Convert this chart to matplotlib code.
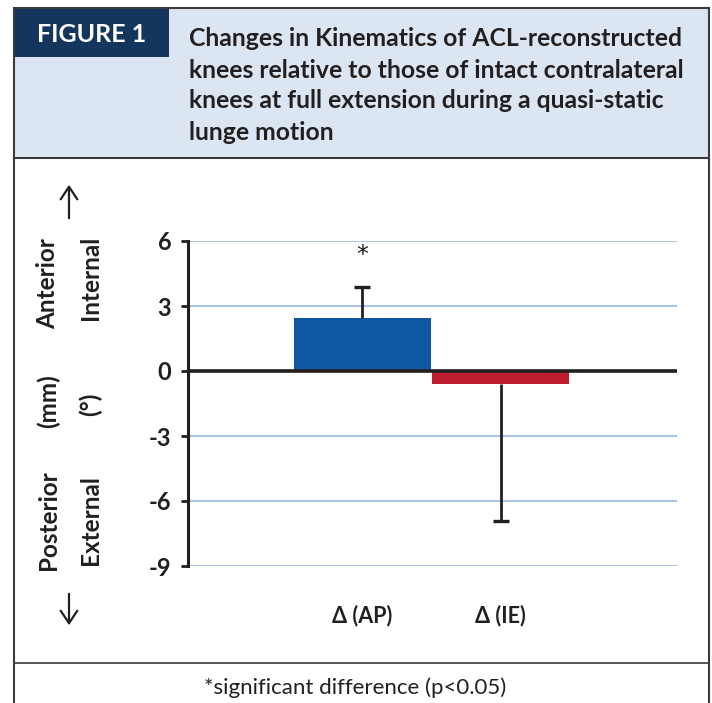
import matplotlib
matplotlib.use("Agg")
import matplotlib.pyplot as plt
from matplotlib.patches import Rectangle, FancyArrowPatch
from matplotlib.lines import Line2D

categories = ["Δ (AP)", "Δ (IE)"]
means = [2.43, -0.59]
err_up = [1.46, 0.0]
err_down = [0.0, 6.32]
yticks = [6, 3, 0, -3, -6, -9]
bar_colors = ["#1057a3", "#be1e2d"]

title_lines = ["Changes in Kinematics of ACL-reconstructed",
               "knees relative to those of intact contralateral",
               "knees at full extension during a quasi-static",
               "lunge motion"]

W, H = 712, 703
plt.rcParams['font.family'] = ['Lato', 'DejaVu Sans']
fig = plt.figure(figsize=(W / 100, H / 100), dpi=100)

def fx(x):
    return x / W

def fy(y):
    return 1 - y / H

ink = "#231f20"
frame_col = "#3a3a3a"
# header
fig.patches.append(Rectangle((fx(14), fy(158)), fx(709) - fx(14), fy(8) - fy(158),
                             transform=fig.transFigure, facecolor="#dce6f2",
                             edgecolor=frame_col, linewidth=1.5, zorder=0))
fig.patches.append(Rectangle((fx(15), fy(57)), fx(169) - fx(15), fy(9) - fy(57),
                             transform=fig.transFigure, facecolor="#15365c",
                             edgecolor="none", zorder=1))
fig.text(fx(92), fy(35), "FIGURE 1", color="white", fontsize=18, fontweight="bold",
         ha="center", va="center")
for i, line in enumerate(title_lines):
    fig.text(fx(189), fy(39 + i * 31), line, color=ink, fontsize=17.8,
             fontweight="bold", ha="left", va="center")

# body frame
for xl in (14, 709):
    fig.lines.append(Line2D([fx(xl), fx(xl)], [fy(158), 0], transform=fig.transFigure,
                            color=frame_col, linewidth=1.5))
fig.lines.append(Line2D([fx(14), fx(709)], [fy(663), fy(663)], transform=fig.transFigure,
                        color=frame_col, linewidth=1.2))
fig.text(fx(355), fy(688), "*significant difference (p<0.05)", color=ink,
         fontsize=16, ha="center", va="center")

# axes
ax_l, ax_r, ax_t, ax_b = 188, 677, 241, 566
ax = fig.add_axes([fx(ax_l), fy(ax_b), fx(ax_r) - fx(ax_l), fy(ax_t) - fy(ax_b)])
x = list(range(len(categories)))
ax.bar(x, means, width=0.99, color=bar_colors, zorder=3)
cap = 0.058
for xi, m, eu, ed in zip(x, means, err_up, err_down):
    if eu > 0:
        ax.vlines(xi, m, m + eu, color=ink, linewidth=2, zorder=4)
        ax.hlines(m + eu, xi - cap, xi + cap, color=ink, linewidth=2.4, zorder=4)
    if ed > 0:
        ax.vlines(xi, m - ed, m, color=ink, linewidth=2, zorder=4)
        ax.hlines(m - ed, xi - cap, xi + cap, color=ink, linewidth=2.4, zorder=4)
ax.axhline(0, color=ink, linewidth=2.6, zorder=5)
ax.text(0, 5.35, "*", ha="center", va="center", fontsize=17, color=ink,
        family="DejaVu Sans")
ax.set_ylim(-9, 6)
ax.set_xlim(-1.257, 2.271)
ax.set_yticks(yticks)
ax.set_yticklabels([str(t) for t in yticks], fontsize=17, fontweight="bold", color=ink)
ax.set_xticks(x)
ax.set_xticklabels(categories, fontsize=15.5, fontweight="bold", color=ink)
ax.tick_params(axis="x", length=0, pad=28)
ax.tick_params(axis="y", direction="out", length=5, width=2, pad=7, color=ink)
ax.grid(axis="y", color="#a9c4e8", linewidth=1.5, zorder=0)
ax.set_axisbelow(True)
for s in ("top", "right", "bottom"):
    ax.spines[s].set_visible(False)
ax.spines["left"].set_linewidth(2.2)
ax.spines["left"].set_color(ink)

# side labels
def vtext(xp, yp, s):
    fig.text(fx(xp), fy(yp), s, rotation=90, ha="center", va="center",
             fontsize=17.5, fontweight="bold", color=ink)

vtext(48, 284, "Anterior")
vtext(48, 401, "(mm)")
vtext(48, 520, "Posterior")
vtext(90, 278, "Internal")
vtext(90, 404, "(°)")
vtext(90, 520, "External")
for y0, y1 in ((221, 182), (591, 628)):
    fig.add_artist(FancyArrowPatch((fx(69), fy(y0)), (fx(69), fy(y1)),
                   transform=fig.transFigure, arrowstyle="->,head_length=9,head_width=6",
                   color=ink, linewidth=1.6, mutation_scale=1))

fig.savefig("out.png", dpi=100)
